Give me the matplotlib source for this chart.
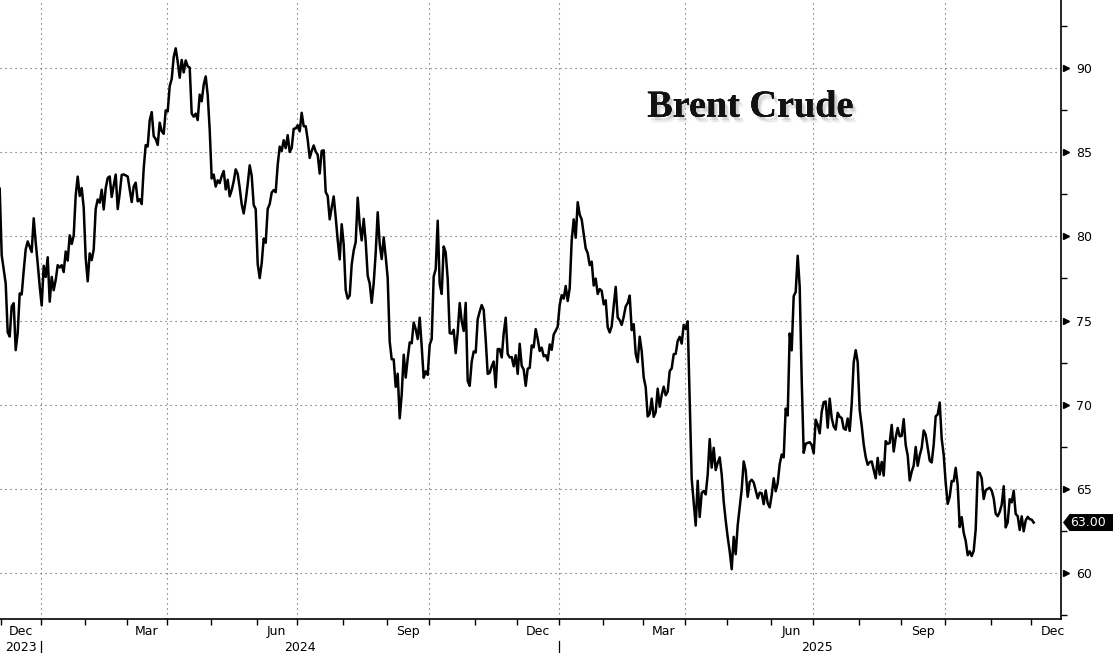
import matplotlib
matplotlib.use("Agg")
import matplotlib.pyplot as plt
import matplotlib.patheffects as pe
import matplotlib.transforms as mtransforms
from matplotlib.patches import Polygon
import numpy as np
import pandas as pd

# Brent front-month closes, one value per trading day (Nov 30 2023 -> Dec 2 2025)
prices_2023 = [82.83, 78.88, 78.03, 77.20, 74.30, 74.05, 75.84, 76.03, 73.24, 74.26,
               76.61, 76.55, 77.95, 79.23, 79.70, 79.39, 79.07, 81.07, 79.65, 78.39,
               77.04]
prices_2024 = [
    # Jan
    75.89, 78.25, 77.59, 78.76, 76.12, 77.59, 76.80, 77.41, 78.29, 78.15, 78.29,
    77.88, 79.10, 78.56, 80.06, 79.55, 80.04, 82.43, 83.55, 82.40, 82.87, 81.71,
    # Feb
    78.70, 77.33, 78.99, 78.59, 79.21, 81.63, 82.19, 82.00, 82.77, 81.60, 82.86,
    83.47, 83.56, 82.34, 83.03, 83.67, 81.62, 82.53, 83.65, 83.68, 83.62,
    # Mar
    83.55, 82.80, 82.04, 82.96, 83.19, 82.08, 82.21, 81.92, 84.03, 85.42, 85.34,
    86.89, 87.38, 85.95, 85.78, 85.43, 86.75, 86.25, 86.09, 87.48,
    # Apr
    87.42, 88.92, 89.35, 90.65, 91.17, 90.38, 89.42, 90.48, 89.74, 90.45, 90.10,
    90.02, 87.29, 87.11, 87.29, 86.91, 88.42, 88.02, 89.01, 89.50, 88.40, 86.33,
    # May
    83.44, 83.67, 82.96, 83.33, 83.16, 83.58, 83.88, 82.79, 83.36, 82.38, 82.75,
    83.27, 83.98, 83.71, 82.88, 81.90, 81.36, 82.12, 83.10, 84.22, 83.60, 81.86,
    81.62,
    # Jun
    78.36, 77.52, 78.41, 79.87, 79.62, 81.63, 81.92, 82.60, 82.75, 82.62, 84.25,
    85.33, 85.07, 85.71, 85.24, 86.01, 85.01, 85.25, 86.39, 86.41,
    # Jul
    86.60, 86.24, 87.34, 86.54, 86.54, 85.75, 84.66, 85.08, 85.40, 85.03, 84.85,
    83.73, 85.08, 85.11, 82.63, 82.40, 81.01, 81.71, 82.37, 81.13, 79.78, 78.63,
    80.72,
    # Aug
    79.52, 76.81, 76.30, 76.48, 78.33, 79.16, 79.66, 82.30, 80.69, 79.76, 81.04,
    79.68, 77.66, 77.20, 76.05, 77.22, 79.02, 81.43, 79.55, 78.65, 79.94, 78.80,
    # Sep
    77.52, 73.75, 72.70, 72.69, 71.06, 71.84, 69.19, 70.61, 72.97, 71.61, 72.75,
    73.70, 73.65, 74.88, 74.49, 73.90, 75.17, 73.46, 71.60, 71.98, 71.77,
    # Oct
    73.56, 73.90, 77.62, 78.05, 80.93, 77.18, 76.58, 79.40, 79.04, 77.46, 74.25,
    74.22, 74.45, 73.06, 74.29, 76.04, 74.96, 74.38, 76.05, 71.42, 71.12, 72.55,
    73.16,
    # Nov
    73.10, 75.08, 75.53, 75.92, 75.63, 73.87, 71.83, 71.89, 72.28, 72.56, 71.04,
    73.30, 73.31, 72.81, 74.23, 75.17, 73.01, 72.81, 72.83, 72.28, 72.94,
    # Dec
    71.83, 73.62, 72.31, 72.09, 71.12, 72.14, 72.19, 73.52, 73.41, 74.49, 73.91,
    73.19, 73.39, 72.88, 72.94, 72.63, 73.58, 73.26, 74.17, 74.39, 74.64,
]
prices_2025 = [
    # Jan
    75.93, 76.51, 76.30, 77.05, 76.16, 76.92, 79.76, 81.01, 79.92, 82.03, 81.29,
    81.00, 80.15, 79.29, 79.00, 78.29, 78.50, 77.08, 77.49, 76.58, 76.87, 76.76,
    # Feb
    75.96, 76.20, 74.61, 74.29, 74.66, 75.87, 77.00, 75.18, 75.02, 74.74, 75.22,
    75.84, 76.04, 76.48, 74.43, 74.78, 73.02, 72.53, 74.04, 73.18,
    # Mar
    71.62, 71.04, 69.30, 69.46, 70.36, 69.28, 69.56, 70.95, 69.88, 70.58, 71.07,
    70.56, 70.78, 72.00, 72.16, 73.00, 73.02, 73.79, 74.03, 73.63, 74.74,
    # Apr
    74.49, 74.95, 70.14, 65.58, 64.21, 62.82, 65.48, 63.33, 64.76, 64.88, 64.67,
    65.85, 67.96, 66.26, 67.44, 66.12, 66.55, 66.87, 65.86, 64.25, 63.12,
    # May
    62.13, 61.29, 60.23, 62.15, 61.12, 62.84, 63.91, 64.96, 66.63, 66.09, 64.53,
    65.41, 65.54, 65.38, 64.91, 64.44, 64.78, 64.74, 64.09, 64.90, 64.15, 63.90,
    # Jun
    64.63, 65.63, 64.86, 65.34, 66.47, 67.04, 66.87, 69.77, 69.36, 74.23, 73.23,
    76.45, 76.70, 78.85, 77.01, 71.48, 67.14, 67.68, 67.73, 67.77, 67.61,
    # Jul
    67.11, 69.11, 68.80, 68.30, 69.58, 70.15, 70.19, 68.64, 70.36, 69.21, 68.71,
    68.52, 69.52, 69.28, 69.21, 68.59, 68.51, 69.18, 68.44, 70.04, 72.51, 73.24,
    72.53,
    # Aug
    69.67, 68.76, 67.64, 66.89, 66.43, 66.59, 66.63, 66.12, 65.63, 66.84, 65.85,
    66.60, 65.79, 67.84, 67.67, 67.73, 68.80, 67.22, 68.05, 68.62, 68.12,
    # Sep
    68.15, 69.14, 67.60, 66.99, 65.50, 66.02, 66.39, 67.49, 66.37, 66.99, 67.44,
    68.47, 68.22, 67.44, 66.68, 66.57, 67.63, 69.31, 69.42, 70.13, 67.97, 67.02,
    # Oct
    65.35, 64.11, 64.53, 65.47, 65.45, 66.25, 65.22, 62.73, 63.32, 62.39, 61.91,
    61.06, 61.29, 61.01, 61.32, 62.59, 65.99, 65.94, 65.62, 64.40, 64.92, 65.00,
    65.07,
    # Nov
    64.89, 64.44, 63.52, 63.38, 63.63, 64.06, 65.16, 62.71, 63.01, 64.39, 64.20,
    64.89, 63.51, 63.38, 62.56, 63.37, 62.48, 63.13, 63.34, 63.20,
    # Dec
    63.17, 63.00,
]
holidays = ["2023-12-25", "2024-01-01", "2024-03-29", "2024-12-25",
            "2025-01-01", "2025-04-18", "2025-12-25"]
y_ticks = [60, 65, 70, 75, 80, 85, 90]
last_label = "63.00"
title = "Brent Crude"

prices = np.array(prices_2023 + prices_2024 + prices_2025)
cal = pd.bdate_range("2023-11-30", "2025-12-31")
cal = cal[~cal.isin(pd.to_datetime(holidays))]
x = np.arange(len(prices))

fig = plt.figure(figsize=(11.13, 6.53), dpi=100)
ax = fig.add_axes([0, 34 / 653, 1061 / 1113, 619 / 653])

ax.plot(x, prices, color="black", lw=1.8)
ax.set_xlim(0.15, 530.65)
ax.set_ylim(57.27, 94.04)

for s in ["left", "top"]:
    ax.spines[s].set_visible(False)
ax.spines["bottom"].set_linewidth(1.2)
ax.spines["right"].set_linewidth(1.2)

grid_kw = dict(color="#555555", lw=0.8, ls=(0, (1, 3.5)))

# month boundaries on the trading-day axis
per = cal.to_period("M")
starts = np.flatnonzero(np.r_[True, per[1:] != per[:-1]])
bounds = np.r_[starts, len(cal)] - 0.5
months = per[starts]

ax.set_xticks(bounds[1:-1])
ax.set_xticklabels([])
ax.tick_params(axis="x", which="major", direction="out", length=4, width=1, color="black")
for m, a, b in zip(months, bounds[:-1], bounds[1:]):
    if m.month in (1, 4, 7, 10):
        ax.axvline(a, **grid_kw, zorder=0)
    if m.month in (3, 6, 9, 12):
        ax.text((a + b) / 2, -0.0195, m.strftime("%b"), transform=ax.get_xaxis_transform(),
                ha="center", va="center", fontsize=9, clip_on=False)

# year labels and separators
years = cal.year
for yr in np.unique(years):
    idx = np.flatnonzero(years == yr)
    a, b = idx[0] - 0.5, idx[-1] + 0.5
    if yr == 2023:
        c = (bounds[1] + bounds[2]) / 2
    else:
        c = (a + b) / 2
    ax.text(c, -0.0465, str(yr), transform=ax.get_xaxis_transform(),
            ha="center", va="center", fontsize=9, clip_on=False)
    if yr > 2023:
        ax.plot([a, a], [-0.036, -0.06], color="black", lw=0.9,
                transform=ax.get_xaxis_transform(), clip_on=False)

# right axis
ax.yaxis.tick_right()
ax.set_yticks(y_ticks)
ax.set_yticks(np.arange(57.5, 94, 5), minor=True)
ax.tick_params(axis="y", which="major", length=0, pad=11, labelsize=9)
ax.tick_params(axis="y", which="minor", length=4, width=1, direction="out", color="black")
ax.grid(axis="y", which="major", **grid_kw)
ax.set_axisbelow(True)

tri_trans = ax.get_yaxis_transform() + mtransforms.ScaledTranslation(0.045, 0, fig.dpi_scale_trans)
ax.plot(np.ones(len(y_ticks)), y_ticks, ls="none", marker=">", ms=5, color="black",
        transform=tri_trans, clip_on=False)

# last value tag
tag_trans = fig.dpi_scale_trans + mtransforms.ScaledTranslation(1, prices[-1], ax.get_yaxis_transform())
tag = Polygon([(0.02, 0), (0.085, 0.085), (0.55, 0.085), (0.55, -0.085), (0.085, -0.085)],
              closed=True, facecolor="black", edgecolor="none",
              transform=tag_trans, clip_on=False)
ax.add_patch(tag)
ax.text(0.095, 0, last_label, transform=tag_trans, color="white", fontsize=9,
        ha="left", va="center", clip_on=False)

# title with soft shadow
shadow = [pe.withSimplePatchShadow(offset=(3, -4), shadow_rgbFace="#999999", alpha=0.18),
          pe.withSimplePatchShadow(offset=(2, -2.5), shadow_rgbFace="#888888", alpha=0.25),
          pe.Normal()]
fig.text(0.6743, 0.8213, title, fontsize=27.5, fontweight="bold", color="#111111",
         family="Liberation Serif", ha="center", va="baseline", path_effects=shadow)

fig.savefig("out.png", dpi=100)
